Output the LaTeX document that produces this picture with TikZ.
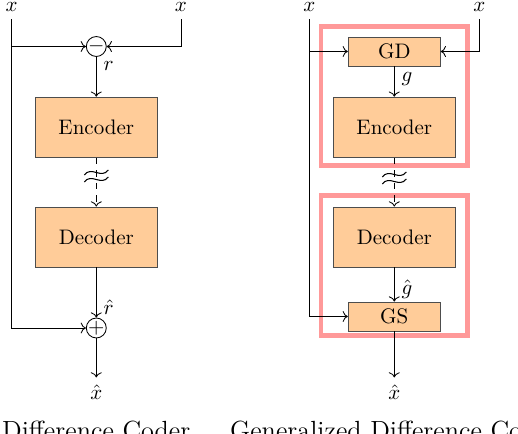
\documentclass[tikz,border=0pt]{standalone}
\usepackage{fontspec}
\usetikzlibrary{positioning, arrows.meta, calc}
\definecolor{gdcpeach}{HTML}{FFCC99}
\definecolor{gdcpink}{HTML}{FF9999}
\definecolor{gdcedge}{HTML}{4D4D4D}
\newcommand{\gdcbreak}[2]{%
  \begin{scope}[shift={(#1,#2)}, line width=0.5pt]
    \foreach \dy in {-3.5,3.5}{
      \draw (-12,\dy+2.5) .. controls (-5,\dy-7) and (5,\dy+7) .. (12,\dy-2.5);}
  \end{scope}}

\begin{document}
\begin{tikzpicture}[
    x=0.476pt, y=-0.476pt,
    % ---- shared styles ---------------------------------------------------
    blk/.style={draw=gdcedge, fill=gdcpeach, minimum width=58pt,
                minimum height=28.6pt, inner sep=0pt},
    blksm/.style={blk, minimum width=43.8pt, minimum height=13.8pt},
    op/.style={draw, circle, minimum size=9.5pt, inner sep=-0.3pt},
    sig/.style={anchor=base},
    grp/.style={draw=gdcpink, line width=2.1pt},
    flow/.style={->},
    chan/.style={->, dashed},
    capt/.style={anchor=base, font=\fontsize{12.5}{15}\selectfont},
  ]
\useasboundingbox (0,0) rectangle (518,434);
\clip (0,0) rectangle (518,434);

% =========================================================================
% LEFT -- difference coder
% =========================================================================
\node[sig] (xtA) at (11.7,12) {$\tilde{x}$};
\node[sig] (xA) at (181,12) {$x$};
\node[op] (subA) at (96.3,46.5) {$-$};
\node[blk] (encA) at (96.3,127.2) {Encoder};
\node[blk] (decA) at (96.3,237) {Decoder};
\node[op] (addA) at (96.3,328) {$+$};
\node[sig] (xhA) at (96.3,399.5) {$\hat{x}$};
\node[capt] (capA) at (96.3,439.5) {Difference Coder};

\draw[flow] (xtA.south) |- (subA.west);
\draw[flow] (xA.south) |- (subA.east);
\draw[flow] (subA) -- node[right, pos=0.22] {$r$} (encA);
\draw[chan] (encA) -- (decA);
\gdcbreak{96.3}{176}
\draw[flow] (decA) -- node[right, pos=0.8] {$\hat{r}$} (addA);
\draw[flow] (xtA.south) |- (addA.west);
\draw[flow] (addA) -- (xhA);

% =========================================================================
% RIGHT -- generalized difference coder
% =========================================================================
\draw[grp] (321,26.7) rectangle (467.5,165.5);
\draw[grp] (321,195.5) rectangle (467.5,335.5);

\node[sig] (xtB) at (309.3,12) {$\tilde{x}$};
\node[sig] (xB) at (479.3,12) {$x$};
\node[blksm] (gd) at (394.3,51.5) {GD};
\node[blk] (encB) at (394.3,127.2) {Encoder};
\node[blk] (decB) at (394.3,237) {Decoder};
\node[blksm] (gs) at (394.3,316.5) {GS};
\node[sig] (xhB) at (394.3,399.5) {$\hat{x}$};
\node[capt] (capB) at (394.3,439.5) {Generalized Difference Coder};

\draw[flow] (xtB.south) |- (gd.west);
\draw[flow] (xB.south) |- (gd.east);
\draw[flow] (gd) -- node[right, pos=0.42] {$g$} (encB);
\draw[chan] (encB) -- (decB);
\gdcbreak{394.3}{178}
\draw[flow] (decB) -- node[right, pos=0.63] {$\hat{g}$} (gs);
\draw[flow] (xtB.south) |- (gs.west);
\draw[flow] (gs) -- (xhB);

\end{tikzpicture}
\end{document}
